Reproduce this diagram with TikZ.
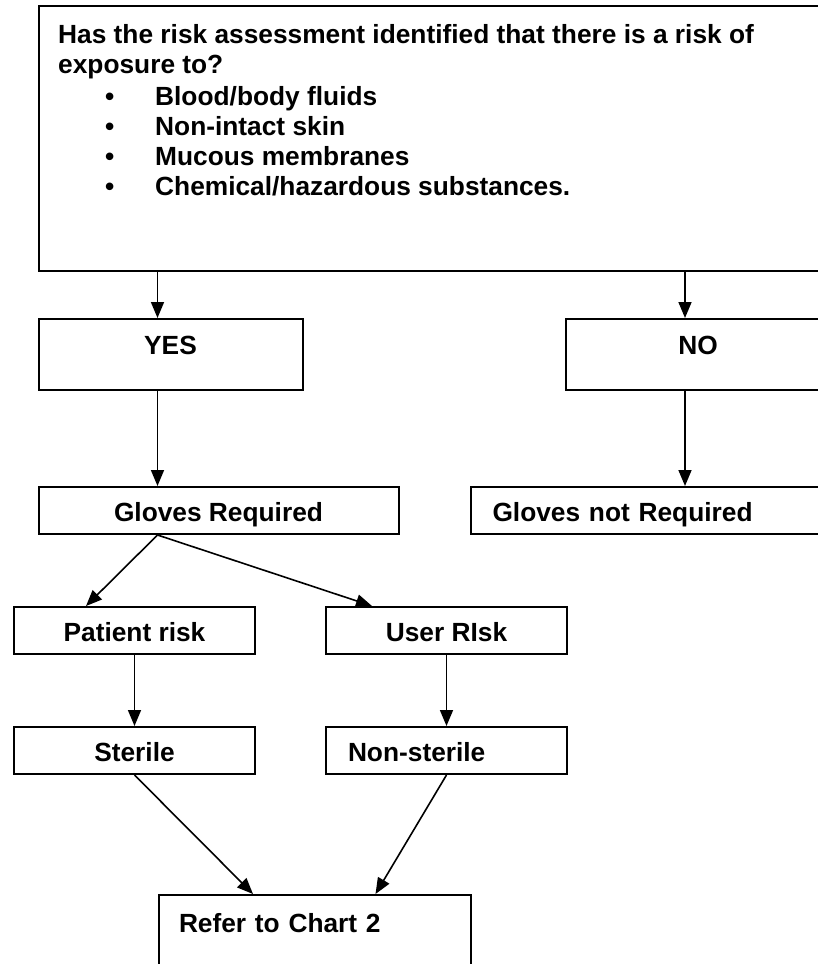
\documentclass[tikz,border=0pt]{standalone}
\usepackage{fontspec}
\setmainfont{Liberation Sans}
\usetikzlibrary{arrows.meta}

\newcommand\riskline[1]{\hspace*{47pt}\makebox[50pt][l]{\textbullet}#1}

\tikzset{
  box/.style={draw, line width=2pt, inner ysep=0pt, anchor=north west},
  smallbox/.style={box, minimum width=241pt, text height=34.5pt, text depth=12.5pt},
  leftbox/.style={box, align=left, inner xsep=22pt},
  arr/.style={-{Triangle[width=13pt,length=16pt]}, line width=1.6pt},
}

\begin{document}
\begin{tikzpicture}[x=1pt, y=-1pt, font=\fontsize{26.3}{30}\selectfont\bfseries]
        \useasboundingbox (0,0) rectangle (818,964);
        \clip (0,0) rectangle (818,964);

        \coordinate (colL) at (157.5,0);
        \coordinate (colR) at (685,0);

        \node[box, minimum width=792pt, minimum height=264.5pt] (q) at (37.5,5) {};
        \node[anchor=north west, align=left, inner sep=0pt] (qtext) at (58,24)
          {Has the risk assessment identified that there is a risk of\\
           exposure to?\\[2pt]
           \riskline{Blood/body fluids}\\
           \riskline{Non-intact skin}\\
           \riskline{Mucous membranes}\\
           \riskline{Chemical/hazardous substances.}};

        \node[box, minimum width=264pt, text height=35.5pt, text depth=35.5pt] (yes) at (37.5,318) {YES};
        \node[box, minimum width=264pt, text height=35.5pt, text depth=35.5pt] (no) at (565,318) {NO};

        \node[box, minimum width=360pt, text height=34pt, text depth=13pt] (gr) at (37.5,486) {Gloves Required};
        \node[leftbox, text width=316pt, text height=34pt, text depth=13pt] (gnr) at (469.5,486) {Gloves not Required};

        \node[smallbox] (pr) at (13,606) {Patient risk};
        \node[smallbox] (ur) at (325,606) {User RIsk};
        \node[smallbox] (st) at (13,726) {Sterile};
        \node[leftbox, text width=197pt, text height=34.5pt, text depth=12.5pt] (ns) at (325,726) {Non-sterile};

        \node[leftbox, inner xsep=20.5pt, text width=271pt, text height=37pt, text depth=70pt] (ref) at (157.5,894) {Refer to Chart 2};

        \draw[arr] (q.south -| colL) -- (yes.north -| colL);
        \draw[arr] (q.south -| colR) -- (no.north -| colR);
        \draw[arr] (yes.south -| colL) -- (gr.north -| colL);
        \draw[arr] (no.south -| colR) -- (gnr.north -| colR);

        \draw[arr] (gr.south -| colL) -- ([xshift=73pt]pr.north west);
        \draw[arr] (gr.south -| colL) -- ([xshift=47pt]ur.north west);
        \draw[arr] (pr) -- (st);
        \draw[arr] (ur) -- (ns.north -| ur);
        \draw[arr] (st.south) -- ([xshift=95.5pt]ref.north west);
        \draw[arr] (ns.south -| ur) -- ([xshift=218pt]ref.north west);
\end{tikzpicture}
\end{document}
